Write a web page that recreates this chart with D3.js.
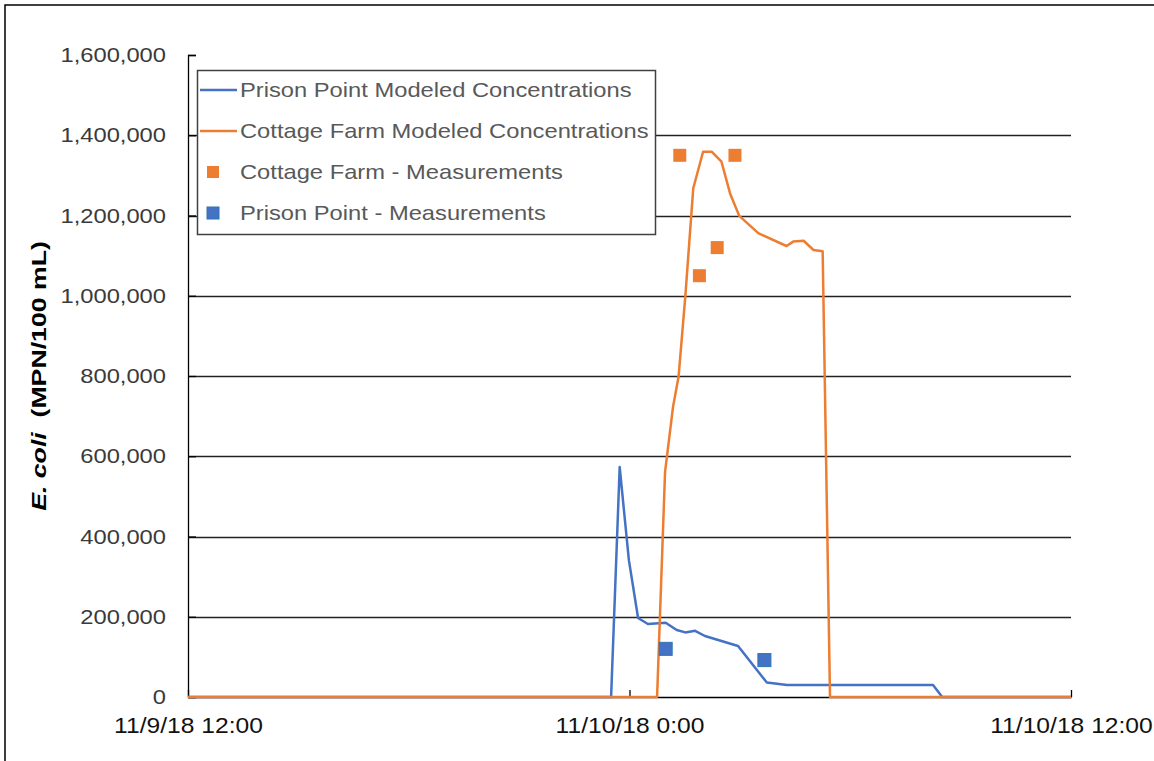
<!DOCTYPE html>
<html>
<head>
<meta charset="utf-8">
<script src="https://cdn.jsdelivr.net/npm/d3@7"></script>
<style>
  html, body { margin: 0; padding: 0; background: #fff; }
  svg { display: block; }
  text { font-family: "Liberation Sans", Arial, sans-serif; }
</style>
</head>
<body>
<svg id="chart" width="1154" height="761"></svg>
<script>
// ---------------- data ----------------
const xTickDates = ["2018-11-09T12:00", "2018-11-10T00:00", "2018-11-10T12:00"];
const xTickLabels = ["11/9/18 12:00", "11/10/18 0:00", "11/10/18 12:00"];
const yTicks = [0, 200000, 400000, 600000, 800000, 1000000, 1200000, 1400000, 1600000];

const prisonModelTimes = ["2018-11-09T12:00", "2018-11-09T23:30", "2018-11-09T23:44", "2018-11-09T23:59",
  "2018-11-10T00:14", "2018-11-10T00:30", "2018-11-10T00:59", "2018-11-10T01:17", "2018-11-10T01:31",
  "2018-11-10T01:47", "2018-11-10T02:03", "2018-11-10T02:57", "2018-11-10T03:44", "2018-11-10T04:17",
  "2018-11-10T08:15", "2018-11-10T08:30", "2018-11-10T12:00"];
const prisonModelValues = [0, 0, 573000, 341000, 197000, 182000, 185000, 167000, 161000,
  165000, 152000, 127000, 36000, 30000, 30000, 0, 0];

const cottageModelTimes = ["2018-11-09T12:00", "2018-11-10T00:45", "2018-11-10T00:58", "2018-11-10T01:11",
  "2018-11-10T01:20", "2018-11-10T01:31", "2018-11-10T01:44", "2018-11-10T02:00", "2018-11-10T02:14",
  "2018-11-10T02:30", "2018-11-10T02:44", "2018-11-10T02:59", "2018-11-10T03:30", "2018-11-10T04:16",
  "2018-11-10T04:27", "2018-11-10T04:44", "2018-11-10T05:00", "2018-11-10T05:15", "2018-11-10T05:27",
  "2018-11-10T12:00"];
const cottageModelValues = [0, 0, 561000, 723000, 798000, 998000, 1268000, 1359000, 1359000,
  1334000, 1255000, 1199000, 1156000, 1124000, 1135000, 1137000, 1114000, 1111000, 0, 0];

const cottageMeasTimes = ["2018-11-10T01:22", "2018-11-10T01:54", "2018-11-10T02:23", "2018-11-10T02:52"];
const cottageMeasValues = [1350000, 1050000, 1120000, 1350000];

const prisonMeasTimes = ["2018-11-10T00:59", "2018-11-10T03:40"];
const prisonMeasValues = [120000, 92000];

const seriesNames = ["Prison Point Modeled Concentrations", "Cottage Farm Modeled Concentrations",
  "Cottage Farm - Measurements", "Prison Point - Measurements"];

// ---------------- chart ----------------
const BLUE = "#4472c4", ORANGE = "#ed7d31";
const STRETCH = 1.13; // reference text is horizontally widened
const svg = d3.select("#chart");
const parse = d3.isoParse;
const W = 1154, H = 761;
const m = { left: 188, right: 1071, top: 55, bottom: 697 };

// outer frame (top & left edges visible)
svg.append("path").attr("d", `M5,${H} V5 H${W}`).attr("fill", "none")
  .attr("stroke", "#000").attr("stroke-width", 1.5);

const x = d3.scaleTime().domain([parse(xTickDates[0]), parse(xTickDates[2])]).range([m.left, m.right]);
const y = d3.scaleLinear().domain([0, 1600000]).range([m.bottom, m.top]);

// gridlines
svg.append("g").selectAll("line").data(yTicks.filter(v => v > 0 && v < 1600000)).join("line")
  .attr("x1", m.left).attr("x2", m.right)
  .attr("y1", d => Math.round(y(d)) + 0.5).attr("y2", d => Math.round(y(d)) + 0.5)
  .attr("stroke", "#222").attr("stroke-width", 1.3);

// y axis
const yAxis = svg.append("g").attr("transform", `translate(${m.left},0)`)
  .call(d3.axisLeft(y).tickValues(yTicks).tickFormat(d3.format(",")).tickSize(-8).tickPadding(22));
yAxis.select(".domain").attr("stroke", "#000").attr("stroke-width", 1.3);
yAxis.selectAll(".tick line").attr("stroke", "#000").attr("stroke-width", 1.3);
yAxis.selectAll(".tick text").attr("font-size", 21).attr("fill", "#3a3a3a")
  .attr("font-family", "'Liberation Sans', Arial, sans-serif")
  .attr("x", 0).attr("transform", `translate(-22,0) scale(${STRETCH},1)`);

// x axis
const xAxis = svg.append("g").attr("transform", `translate(0,${m.bottom})`)
  .call(d3.axisBottom(x).tickValues(xTickDates.map(parse)).tickFormat((d, i) => xTickLabels[i])
    .tickSize(-7).tickPadding(19).tickSizeOuter(0));
xAxis.selectAll(".tick text").attr("y", 0)
  .attr("transform", `translate(0,19) scale(1.12,1)`);
xAxis.select(".domain").attr("stroke", "#000").attr("stroke-width", 1.3);
xAxis.selectAll(".tick line").attr("stroke", "#000").attr("stroke-width", 1.3);
xAxis.selectAll(".tick text").attr("font-size", 22).attr("fill", "#111")
  .attr("font-family", "'Liberation Sans', Arial, sans-serif")
  .attr("dy", "0.75em");

// y-axis title
const yt = svg.append("text")
  .attr("transform", `translate(46,${(m.top + m.bottom) / 2}) rotate(-90) scale(1.27,1)`)
  .attr("text-anchor", "middle").attr("font-size", 21).attr("font-weight", "bold").attr("fill", "#000");
yt.append("tspan").attr("font-style", "italic").text("E. coli");
yt.append("tspan").text("\u00a0\u00a0(MPN/100 mL)");

// lines
const line = d3.line().x(d => x(d.t)).y(d => y(d.v));
const mk = (ts, vs) => ts.map((t, i) => ({ t: parse(t), v: vs[i] }));

svg.append("path").datum(mk(prisonModelTimes, prisonModelValues))
  .attr("d", line).attr("fill", "none").attr("stroke", BLUE).attr("stroke-width", 2.5)
  .attr("stroke-linejoin", "round");
svg.append("path").datum(mk(cottageModelTimes, cottageModelValues))
  .attr("d", line).attr("fill", "none").attr("stroke", ORANGE).attr("stroke-width", 2.5)
  .attr("stroke-linejoin", "round");

// markers
const S = 13;
svg.append("g").selectAll("rect").data(mk(cottageMeasTimes, cottageMeasValues)).join("rect")
  .attr("x", d => x(d.t) - S / 2).attr("y", d => y(d.v) - S / 2)
  .attr("width", S).attr("height", S).attr("fill", ORANGE);
svg.append("g").selectAll("rect").data(mk(prisonMeasTimes, prisonMeasValues)).join("rect")
  .attr("x", d => x(d.t) - S / 2).attr("y", d => y(d.v) - S / 2)
  .attr("width", S).attr("height", S).attr("fill", BLUE)
  .attr("stroke", "#2e75b6").attr("stroke-width", 1);

// legend
const lg = svg.append("g").attr("transform", "translate(197,70)");
lg.append("rect").attr("x", 0.5).attr("y", 0.5).attr("width", 458).attr("height", 164)
  .attr("fill", "#fff").attr("stroke", "#404040").attr("stroke-width", 1.5);
const rowY = [20, 61, 102, 143];
const styles = [
  { type: "line", color: BLUE }, { type: "line", color: ORANGE },
  { type: "rect", color: ORANGE }, { type: "rect", color: BLUE }
];
seriesNames.forEach((name, i) => {
  const g = lg.append("g").attr("transform", `translate(0,${rowY[i]})`);
  if (styles[i].type === "line") {
    g.append("line").attr("x1", 3).attr("x2", 40).attr("y1", 0).attr("y2", 0)
      .attr("stroke", styles[i].color).attr("stroke-width", 2.5);
  } else {
    g.append("rect").attr("x", 10).attr("y", -6).attr("width", 12).attr("height", 12)
      .attr("fill", styles[i].color)
      .attr("stroke", i === 3 ? "#2e75b6" : "none").attr("stroke-width", 1);
  }
  g.append("text").attr("transform", `translate(43,0) scale(${STRETCH},1)`)
    .attr("dy", "0.35em")
    .attr("font-size", 21).attr("fill", "#595959").text(name);
});
</script>
</body>
</html>
